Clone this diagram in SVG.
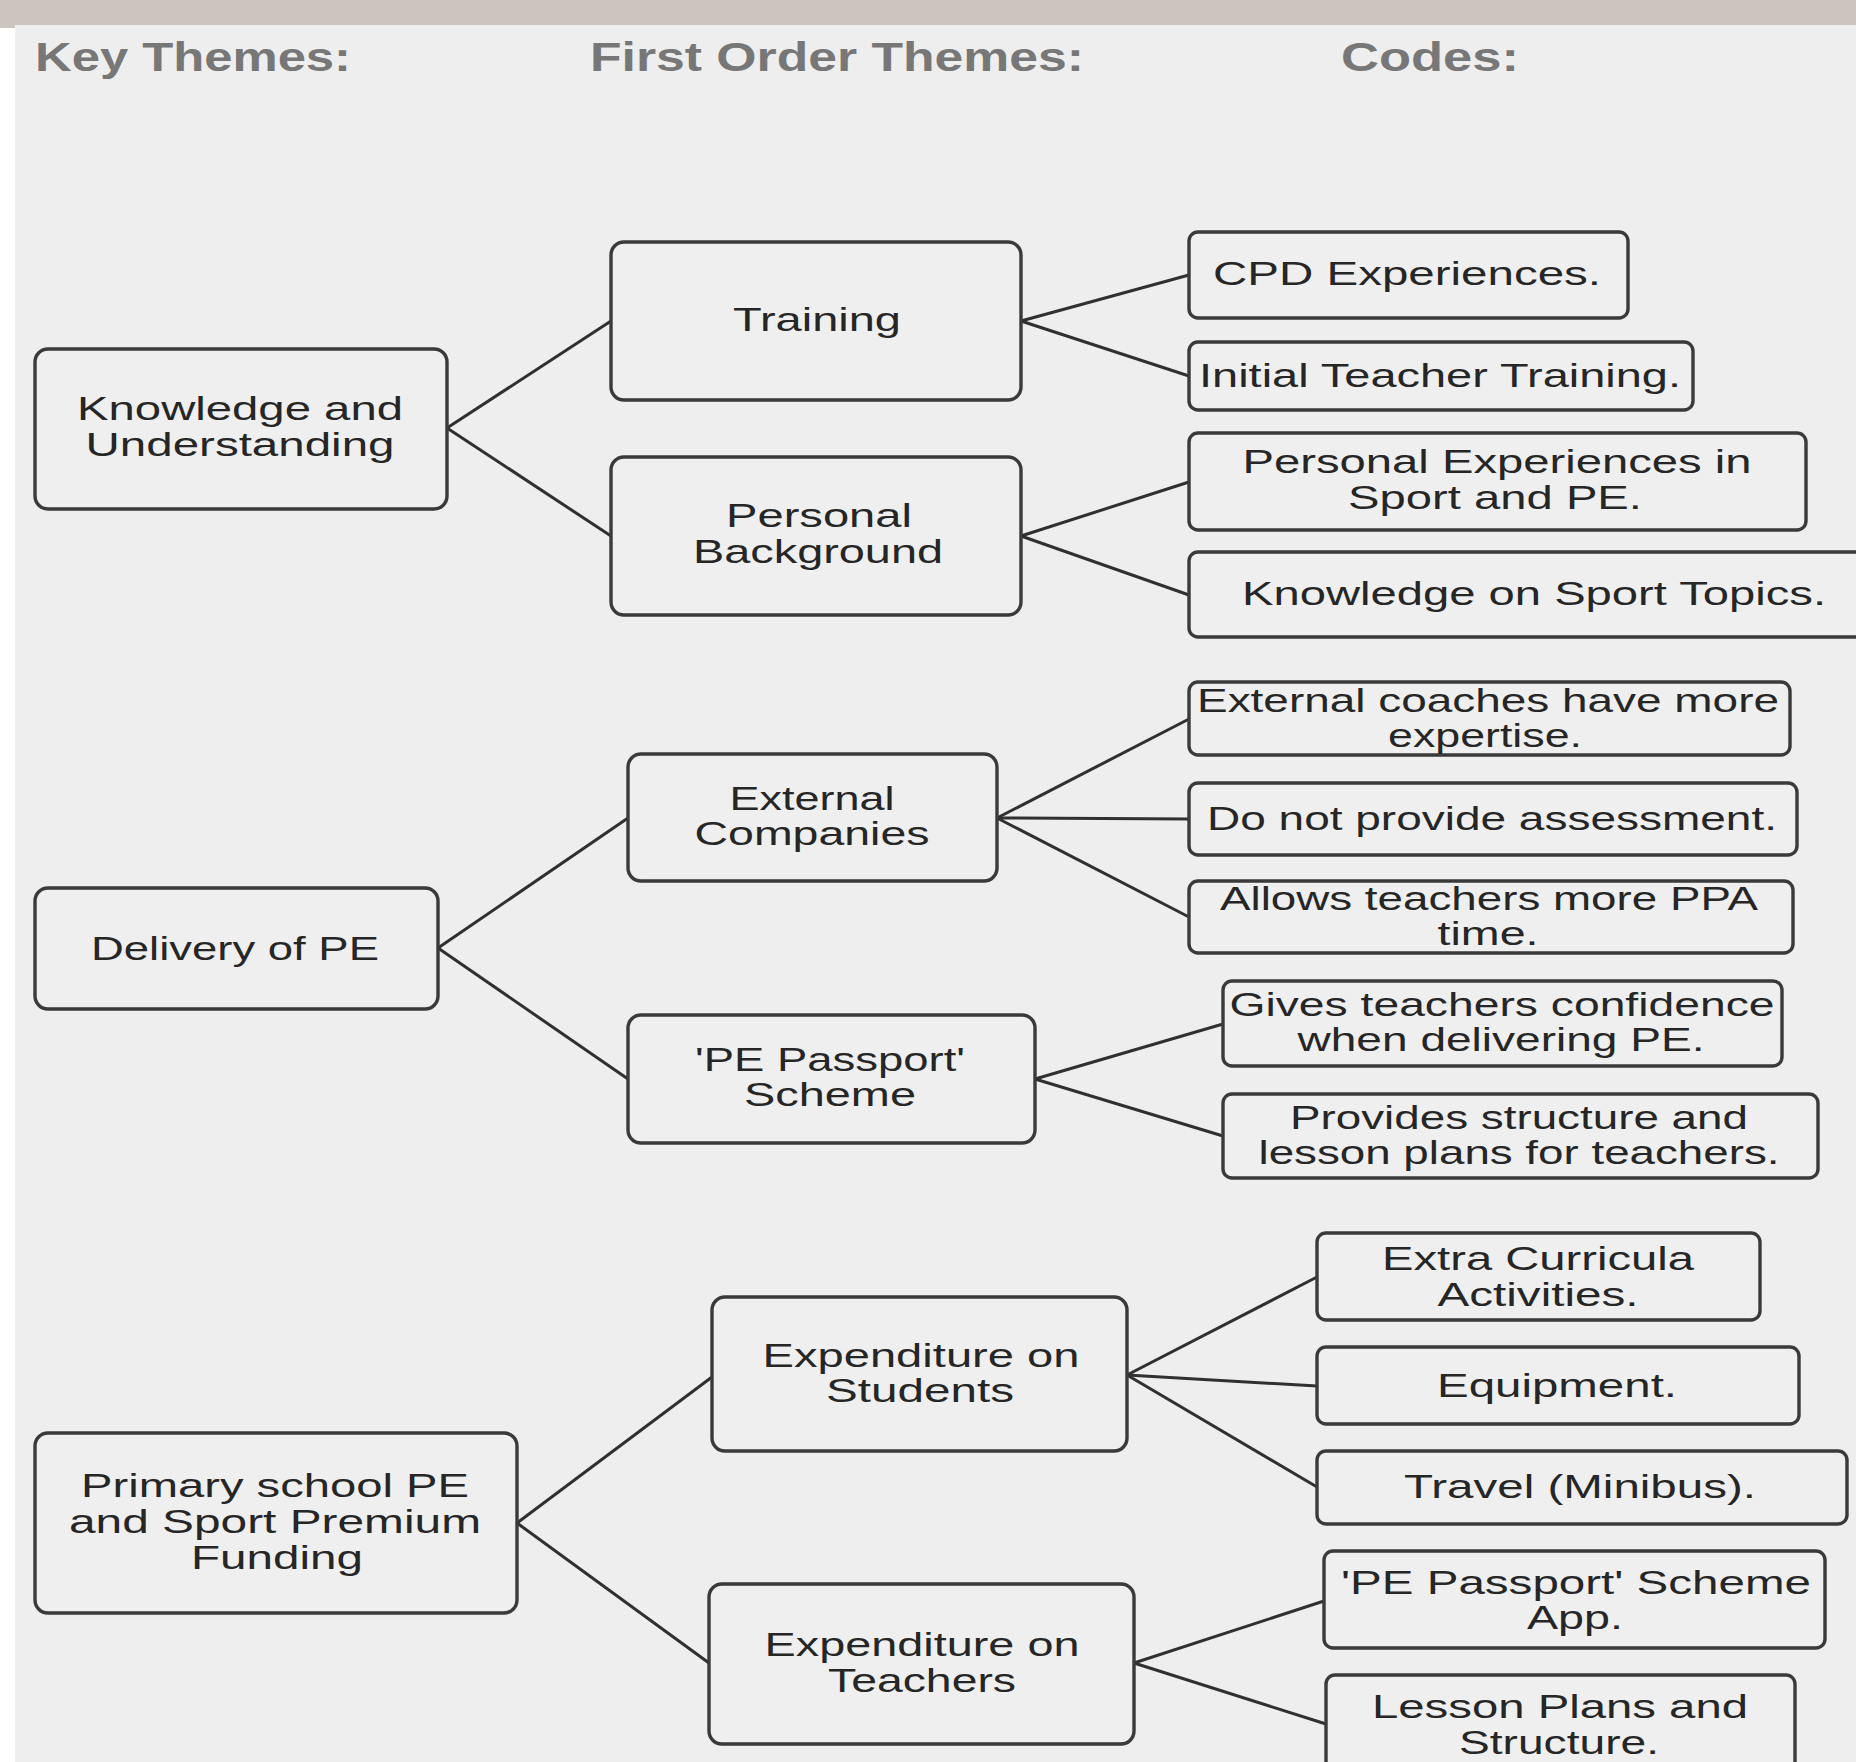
<svg xmlns="http://www.w3.org/2000/svg" width="1856" height="1762" viewBox="0 0 1856 1762">
<style>
.box{fill:#efefef;stroke:#3a3a3a;stroke-width:3.4}
.t{font-family:"Liberation Sans",Arial,sans-serif;font-size:33px;fill:#262626;text-anchor:middle}
.h{font-family:"Liberation Sans",Arial,sans-serif;font-size:40px;font-weight:bold;fill:#777777}
#connectors line{stroke:#303030;stroke-width:3;stroke-linecap:round}
</style>
<rect x="0" y="0" width="1856" height="1762" fill="#eeeeee"/>
<rect x="0" y="0" width="15" height="1762" fill="#ffffff"/>
<rect x="0" y="0" width="1856" height="25" fill="#ccc4be"/>
<rect x="0" y="0" width="15" height="28" fill="#ccc4be"/>

<g id="headers">
<text class="h" x="35" y="71" textLength="316" lengthAdjust="spacingAndGlyphs">Key Themes:</text>
<text class="h" x="590" y="71" textLength="494" lengthAdjust="spacingAndGlyphs">First Order Themes:</text>
<text class="h" x="1341" y="71" textLength="178" lengthAdjust="spacingAndGlyphs">Codes:</text>
</g>

<g id="connectors">
<line x1="447" y1="428" x2="611" y2="321"/>
<line x1="447" y1="428" x2="611" y2="536"/>
<line x1="1021" y1="321" x2="1189" y2="275"/>
<line x1="1021" y1="321" x2="1189" y2="376"/>
<line x1="1021" y1="536" x2="1189" y2="482"/>
<line x1="1021" y1="536" x2="1189" y2="595"/>
<line x1="438" y1="948" x2="628" y2="818"/>
<line x1="438" y1="948" x2="628" y2="1079"/>
<line x1="997" y1="818" x2="1189" y2="719"/>
<line x1="997" y1="818" x2="1189" y2="819"/>
<line x1="997" y1="818" x2="1189" y2="917"/>
<line x1="1035" y1="1079" x2="1223" y2="1024"/>
<line x1="1035" y1="1079" x2="1223" y2="1136"/>
<line x1="517" y1="1523" x2="712" y2="1377"/>
<line x1="517" y1="1523" x2="709" y2="1663"/>
<line x1="1127" y1="1375" x2="1317" y2="1277"/>
<line x1="1127" y1="1375" x2="1317" y2="1386"/>
<line x1="1127" y1="1375" x2="1317" y2="1487"/>
<line x1="1134" y1="1663" x2="1324" y2="1601"/>
<line x1="1134" y1="1663" x2="1326" y2="1724"/>
</g>

<g id="k1"><rect class="box" x="35" y="349" width="412" height="160" rx="13"/>
<text class="t" x="240" y="420" textLength="326" lengthAdjust="spacingAndGlyphs">Knowledge and</text>
<text class="t" x="240" y="456" textLength="309" lengthAdjust="spacingAndGlyphs">Understanding</text></g>

<g id="k2"><rect class="box" x="35" y="888" width="403" height="121" rx="13"/>
<text class="t" x="235" y="960" textLength="288" lengthAdjust="spacingAndGlyphs">Delivery of PE</text></g>

<g id="k3"><rect class="box" x="35" y="1433" width="482" height="180" rx="13"/>
<text class="t" x="275" y="1497" textLength="388" lengthAdjust="spacingAndGlyphs">Primary school PE</text>
<text class="t" x="275" y="1533" textLength="412" lengthAdjust="spacingAndGlyphs">and Sport Premium</text>
<text class="t" x="277" y="1569" textLength="172" lengthAdjust="spacingAndGlyphs">Funding</text></g>

<g id="f1"><rect class="box" x="611" y="242" width="410" height="158" rx="13"/>
<text class="t" x="817" y="331" textLength="168" lengthAdjust="spacingAndGlyphs">Training</text></g>

<g id="f2"><rect class="box" x="611" y="457" width="410" height="158" rx="13"/>
<text class="t" x="819" y="527" textLength="186" lengthAdjust="spacingAndGlyphs">Personal</text>
<text class="t" x="818" y="563" textLength="250" lengthAdjust="spacingAndGlyphs">Background</text></g>

<g id="f3"><rect class="box" x="628" y="754" width="369" height="127" rx="13"/>
<text class="t" x="812" y="810" textLength="165" lengthAdjust="spacingAndGlyphs">External</text>
<text class="t" x="812" y="845" textLength="235" lengthAdjust="spacingAndGlyphs">Companies</text></g>

<g id="f4"><rect class="box" x="628" y="1015" width="407" height="128" rx="13"/>
<text class="t" x="830" y="1071" textLength="270" lengthAdjust="spacingAndGlyphs">'PE Passport'</text>
<text class="t" x="830" y="1106" textLength="172" lengthAdjust="spacingAndGlyphs">Scheme</text></g>

<g id="f5"><rect class="box" x="712" y="1297" width="415" height="154" rx="13"/>
<text class="t" x="921" y="1367" textLength="317" lengthAdjust="spacingAndGlyphs">Expenditure on</text>
<text class="t" x="920" y="1402" textLength="188" lengthAdjust="spacingAndGlyphs">Students</text></g>

<g id="f6"><rect class="box" x="709" y="1584" width="425" height="160" rx="13"/>
<text class="t" x="922" y="1656" textLength="315" lengthAdjust="spacingAndGlyphs">Expenditure on</text>
<text class="t" x="922" y="1692" textLength="188" lengthAdjust="spacingAndGlyphs">Teachers</text></g>

<g id="c1"><rect class="box" x="1189" y="232" width="439" height="86" rx="9"/>
<text class="t" x="1407" y="285" textLength="388" lengthAdjust="spacingAndGlyphs">CPD Experiences.</text></g>

<g id="c2"><rect class="box" x="1189" y="342" width="504" height="68" rx="9"/>
<text class="t" x="1440" y="387" textLength="482" lengthAdjust="spacingAndGlyphs">Initial Teacher Training.</text></g>

<g id="c3"><rect class="box" x="1189" y="433" width="617" height="97" rx="9"/>
<text class="t" x="1497" y="473" textLength="509" lengthAdjust="spacingAndGlyphs">Personal Experiences in</text>
<text class="t" x="1495" y="509" textLength="294" lengthAdjust="spacingAndGlyphs">Sport and PE.</text></g>

<g id="c4"><rect class="box" x="1189" y="552" width="690" height="85" rx="9"/>
<text class="t" x="1534" y="605" textLength="584" lengthAdjust="spacingAndGlyphs">Knowledge on Sport Topics.</text></g>

<g id="c5"><rect class="box" x="1189" y="682" width="601" height="73" rx="9"/>
<text class="t" x="1488" y="712" textLength="582" lengthAdjust="spacingAndGlyphs">External coaches have more</text>
<text class="t" x="1485" y="747" textLength="194" lengthAdjust="spacingAndGlyphs">expertise.</text></g>

<g id="c6"><rect class="box" x="1189" y="783" width="608" height="72" rx="9"/>
<text class="t" x="1492" y="830" textLength="570" lengthAdjust="spacingAndGlyphs">Do not provide assessment.</text></g>

<g id="c7"><rect class="box" x="1189" y="881" width="604" height="72" rx="9"/>
<text class="t" x="1489" y="910" textLength="538" lengthAdjust="spacingAndGlyphs">Allows teachers more PPA</text>
<text class="t" x="1488" y="945" textLength="101" lengthAdjust="spacingAndGlyphs">time.</text></g>

<g id="c8"><rect class="box" x="1223" y="981" width="559" height="85" rx="9"/>
<text class="t" x="1502" y="1016" textLength="545" lengthAdjust="spacingAndGlyphs">Gives teachers confidence</text>
<text class="t" x="1501" y="1051" textLength="407" lengthAdjust="spacingAndGlyphs">when delivering PE.</text></g>

<g id="c9"><rect class="box" x="1223" y="1094" width="595" height="84" rx="9"/>
<text class="t" x="1519" y="1129" textLength="458" lengthAdjust="spacingAndGlyphs">Provides structure and</text>
<text class="t" x="1519" y="1164" textLength="521" lengthAdjust="spacingAndGlyphs">lesson plans for teachers.</text></g>

<g id="c10"><rect class="box" x="1317" y="1233" width="443" height="87" rx="9"/>
<text class="t" x="1538" y="1270" textLength="312" lengthAdjust="spacingAndGlyphs">Extra Curricula</text>
<text class="t" x="1538" y="1306" textLength="201" lengthAdjust="spacingAndGlyphs">Activities.</text></g>

<g id="c11"><rect class="box" x="1317" y="1347" width="482" height="77" rx="9"/>
<text class="t" x="1557" y="1397" textLength="240" lengthAdjust="spacingAndGlyphs">Equipment.</text></g>

<g id="c12"><rect class="box" x="1317" y="1451" width="530" height="73" rx="9"/>
<text class="t" x="1580" y="1498" textLength="352" lengthAdjust="spacingAndGlyphs">Travel (Minibus).</text></g>

<g id="c13"><rect class="box" x="1324" y="1551" width="501" height="97" rx="9"/>
<text class="t" x="1576" y="1594" textLength="470" lengthAdjust="spacingAndGlyphs">'PE Passport' Scheme</text>
<text class="t" x="1575" y="1629" textLength="96" lengthAdjust="spacingAndGlyphs">App.</text></g>

<g id="c14"><rect class="box" x="1326" y="1675" width="469" height="110" rx="9"/>
<text class="t" x="1560" y="1718" textLength="376" lengthAdjust="spacingAndGlyphs">Lesson Plans and</text>
<text class="t" x="1559" y="1754" textLength="200" lengthAdjust="spacingAndGlyphs">Structure.</text></g>
</svg>
